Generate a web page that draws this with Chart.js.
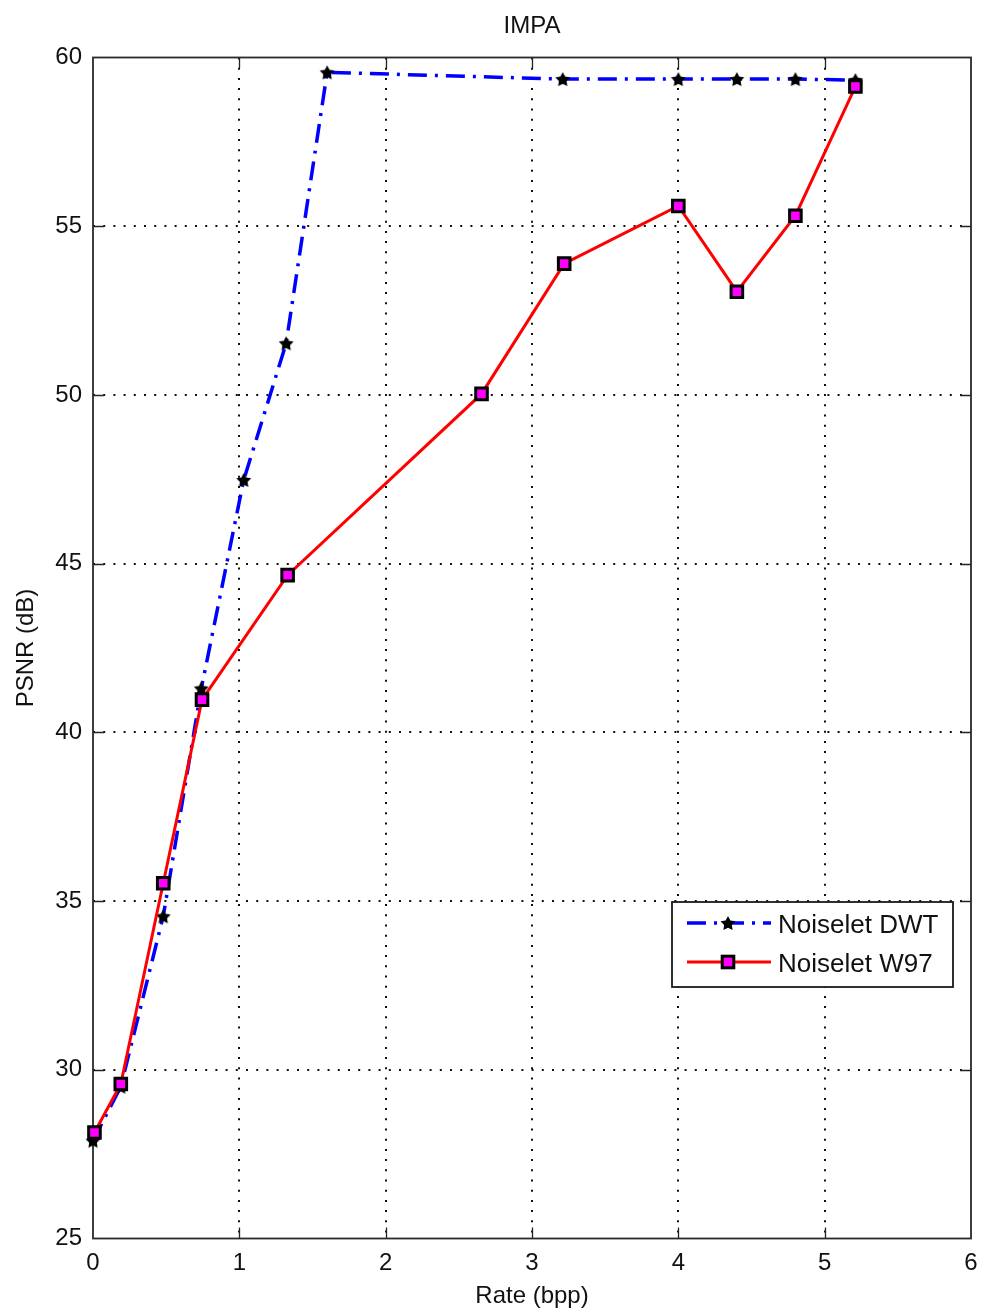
<!DOCTYPE html>
<html>
<head>
<meta charset="utf-8">
<script src="https://cdn.jsdelivr.net/npm/chart.js@4/dist/chart.umd.min.js"></script>
<style>
  html, body { margin: 0; padding: 0; background: #fff; }
  canvas { display: block; }
</style>
</head>
<body>
<canvas id="c" width="984" height="1315"></canvas>
<script>
// ---- chart text ----
const chartTitle = 'IMPA';
const xAxisLabel = 'Rate (bpp)';
const yAxisLabel = 'PSNR (dB)';

// ---- tick labels ----
const xTicks = [0, 1, 2, 3, 4, 5, 6];
const yTicks = [25, 30, 35, 40, 45, 50, 55, 60];

// ---- series: Noiselet DWT ----
const dwtLabel = 'Noiselet DWT';
const dwtRate = [0.00, 0.19, 0.48, 0.74, 1.03, 1.32, 1.60, 3.21, 4.00, 4.40, 4.80, 5.21];
const dwtPsnr = [27.9, 29.5, 34.55, 41.3, 47.48, 51.53, 59.56, 59.36, 59.36, 59.36, 59.36, 59.33];

// ---- series: Noiselet W97 ----
const w97Label = 'Noiselet W97';
const w97Rate = [0.01, 0.19, 0.48, 0.745, 1.33, 2.655, 3.22, 4.00, 4.40, 4.80, 5.21];
const w97Psnr = [28.14, 29.58, 35.53, 40.97, 44.66, 50.03, 53.89, 55.60, 53.06, 55.31, 59.14];

const FONT = '"Liberation Sans", Arial, Helvetica, sans-serif';
const TEXT = '#111';

// filled five-point star used as the DWT marker
function makeStar(size, color) {
  const c = document.createElement('canvas');
  c.width = c.height = size;
  const g = c.getContext('2d');
  const cx = size / 2, cy = size / 2 + 0.7, R = size / 2 - 0.2, r = R * 0.52;
  g.beginPath();
  for (let i = 0; i < 10; i++) {
    const a = -Math.PI / 2 + i * Math.PI / 5;
    const rad = i % 2 ? r : R;
    g.lineTo(cx + rad * Math.cos(a), cy + rad * Math.sin(a));
  }
  g.closePath();
  g.fillStyle = color;
  g.fill();
  return c;
}
const starImg = makeStar(16, '#000');

const toPoints = (xs, ys) => xs.map((x, i) => ({ x, y: ys[i] }));

// axes box with inward tick marks on all four sides
const framePlugin = {
  id: 'frame',
  beforeDatasetsDraw(chart) {
    const { ctx, chartArea: a, scales } = chart;
    const tl = 11;
    ctx.save();
    ctx.strokeStyle = '#222';
    ctx.lineWidth = 1.3;
    ctx.beginPath();
    xTicks.forEach(v => {
      if (v === xTicks[0] || v === xTicks[xTicks.length - 1]) return;
      const px = Math.round(scales.x.getPixelForValue(v)) + 0.5;
      ctx.moveTo(px, a.bottom); ctx.lineTo(px, a.bottom - tl);
      ctx.moveTo(px, a.top); ctx.lineTo(px, a.top + tl);
    });
    yTicks.forEach(v => {
      if (v === yTicks[0] || v === yTicks[yTicks.length - 1]) return;
      const py = Math.round(scales.y.getPixelForValue(v)) + 0.5;
      ctx.moveTo(a.left, py); ctx.lineTo(a.left + tl, py);
      ctx.moveTo(a.right, py); ctx.lineTo(a.right - tl, py);
    });
    ctx.stroke();
    ctx.lineWidth = 1.8;
    ctx.strokeStyle = '#2a2a2a';
    ctx.strokeRect(a.left, a.top, a.right - a.left, a.bottom - a.top);
    ctx.restore();
  }
};

// boxed legend inside the lower right of the plot
const legendPlugin = {
  id: 'boxLegend',
  afterDraw(chart) {
    const { ctx, chartArea: a } = chart;
    const w = 281, h = 85;
    const right = a.right - 18, bottom = a.bottom - 251.5;
    const left = right - w, top = bottom - h;
    ctx.save();
    ctx.fillStyle = '#fff';
    ctx.fillRect(left, top, w, h);
    ctx.lineWidth = 1.8;
    ctx.strokeStyle = '#1a1a1a';
    ctx.strokeRect(left, top, w, h);
    const rows = [top + 21, top + 60];
    chart.data.datasets.forEach((ds, i) => {
      const y = rows[i];
      const x0 = left + 15, x1 = left + 99, xm = left + 56;
      ctx.save();
      ctx.strokeStyle = ds.borderColor;
      ctx.lineWidth = ds.borderWidth;
      ctx.setLineDash(ds.borderDash || []);
      ctx.beginPath();
      ctx.moveTo(x0, y); ctx.lineTo(x1, y);
      ctx.stroke();
      ctx.restore();
      if (ds.pointStyle === 'rect') {
        const s = ds.pointRadius * Math.SQRT1_2;
        ctx.fillStyle = ds.pointBackgroundColor;
        ctx.strokeStyle = ds.pointBorderColor;
        ctx.lineWidth = ds.pointBorderWidth;
        ctx.fillRect(xm - s, y - s, 2 * s, 2 * s);
        ctx.strokeRect(xm - s, y - s, 2 * s, 2 * s);
      } else {
        ctx.drawImage(ds.pointStyle, xm - ds.pointStyle.width / 2, y - ds.pointStyle.height / 2);
      }
      ctx.fillStyle = TEXT;
      ctx.font = '26px ' + FONT;
      ctx.textBaseline = 'middle';
      ctx.textAlign = 'left';
      ctx.fillText(ds.label, left + 106, y + 3);
    });
    ctx.restore();
  }
};

const gridColor = (edgeVals) => (c) =>
  (c.tick && edgeVals.includes(c.tick.value)) ? 'rgba(0,0,0,0)' : '#111';

new Chart(document.getElementById('c'), {
  type: 'line',
  data: {
    datasets: [
      {
        label: dwtLabel,
        data: toPoints(dwtRate, dwtPsnr),
        borderColor: '#0000ff',
        borderWidth: 3.5,
        borderDash: [19, 8, 3, 8],
        pointStyle: starImg,
        pointRadius: 8,
        tension: 0,
        fill: false,
        clip: false,
        order: 2
      },
      {
        label: w97Label,
        data: toPoints(w97Rate, w97Psnr),
        borderColor: '#ff0000',
        borderWidth: 3,
        pointStyle: 'rect',
        pointRadius: 8.2,
        pointBackgroundColor: '#ff00ff',
        pointBorderColor: '#000',
        pointBorderWidth: 3,
        tension: 0,
        fill: false,
        clip: false,
        order: 1
      }
    ]
  },
  options: {
    responsive: false,
    animation: false,
    events: [],
    layout: { padding: { top: 0, right: 13, bottom: 0, left: 0 } },
    plugins: {
      legend: { display: false },
      tooltip: { enabled: false },
      title: {
        display: true,
        fullSize: false,
        text: chartTitle,
        color: TEXT,
        font: { family: FONT, size: 24, weight: 'normal' },
        padding: { top: 12, bottom: 16.7 }
      }
    },
    scales: {
      x: {
        type: 'linear',
        min: xTicks[0],
        max: xTicks[xTicks.length - 1],
        afterBuildTicks: s => { s.ticks = xTicks.map(v => ({ value: v })); },
        afterFit: s => { s.height = 76.5; s.paddingLeft = 0; s.paddingRight = 0; },
        grid: { drawTicks: false, lineWidth: 2, color: gridColor([xTicks[0], xTicks[xTicks.length - 1]]) },
        border: { display: false, dash: [2, 8.2] },
        ticks: { padding: 10, color: TEXT, maxRotation: 0, autoSkip: false,
                 font: { family: FONT, size: 24 } },
        title: { display: true, text: xAxisLabel, color: TEXT,
                 font: { family: FONT, size: 24 }, padding: { top: 0, bottom: 4 } }
      },
      y: {
        type: 'linear',
        min: yTicks[0],
        max: yTicks[yTicks.length - 1],
        afterBuildTicks: s => { s.ticks = yTicks.map(v => ({ value: v })); },
        afterFit: s => { s.width = 93; s.paddingTop = 0; s.paddingBottom = 0; },
        grid: { drawTicks: false, lineWidth: 2, color: gridColor([yTicks[0], yTicks[yTicks.length - 1]]) },
        border: { display: false, dash: [2, 8.2] },
        ticks: { padding: 11, color: TEXT, autoSkip: false,
                 font: { family: FONT, size: 24 } },
        title: { display: true, text: yAxisLabel, color: TEXT,
                 font: { family: FONT, size: 24 }, padding: { top: 12, bottom: 0 } }
      }
    }
  },
  plugins: [framePlugin, legendPlugin]
});
</script>
</body>
</html>
